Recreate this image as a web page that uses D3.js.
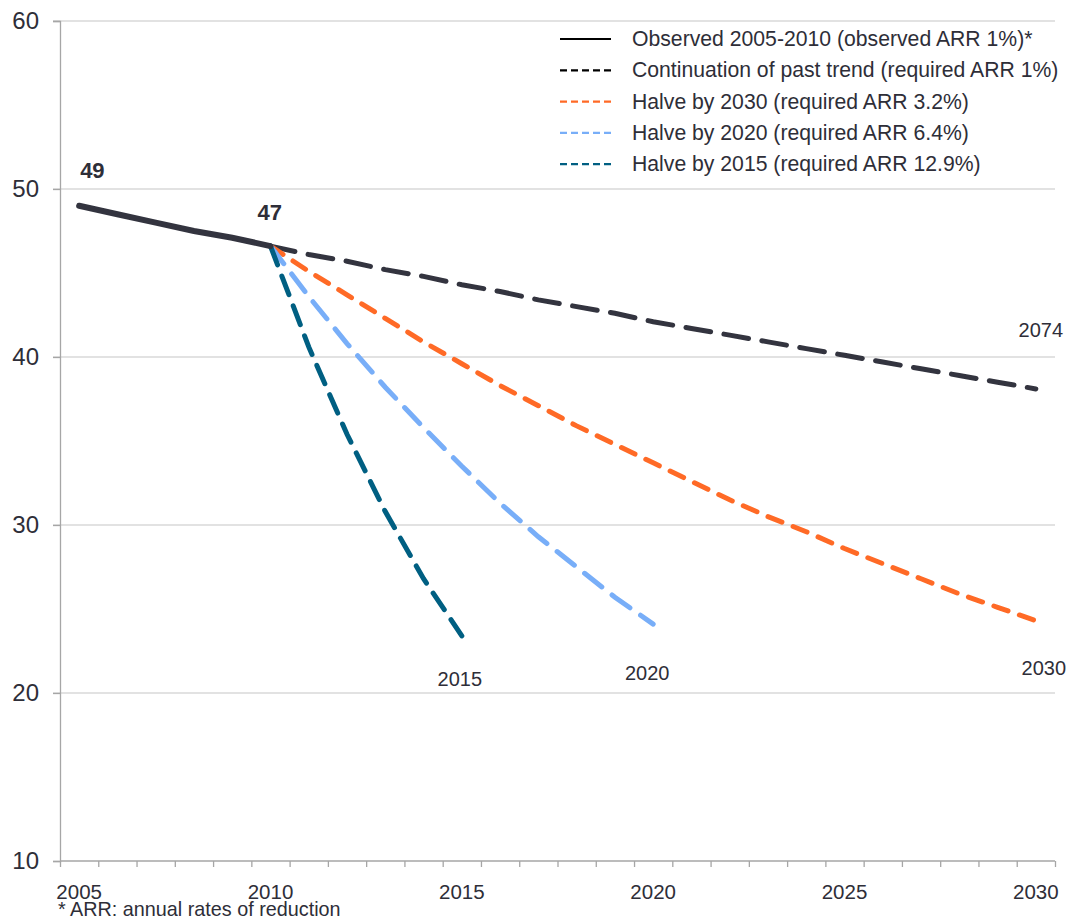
<!DOCTYPE html>
<html>
<head>
<meta charset="utf-8">
<script src="https://cdn.jsdelivr.net/npm/d3@7"></script>
<style>
  body { margin: 0; background: #fff; }
  svg { font-family: "Liberation Sans", Arial, sans-serif; }
</style>
</head>
<body>
<svg id="chart" width="1070" height="920"></svg>
<script>
// data
var observedYears = [2005, 2006, 2007, 2008, 2009, 2010];
var observed = [49.0, 48.5, 48.0, 47.5, 47.1, 46.6];

var trendYears = d3.range(2010, 2031);
var continuation = [46.6, 46.1, 45.7, 45.2, 44.8, 44.3, 43.9, 43.4, 43.0, 42.6, 42.1,
  41.7, 41.3, 40.9, 40.5, 40.1, 39.7, 39.3, 38.9, 38.5, 38.1];
var halve2030 = [46.6, 45.1, 43.7, 42.3, 40.9, 39.6, 38.3, 37.1, 35.9, 34.8, 33.7,
  32.6, 31.5, 30.5, 29.6, 28.6, 27.7, 26.8, 25.9, 25.1, 24.3];
var halve2020 = [46.6, 43.6, 40.8, 38.2, 35.8, 33.5, 31.3, 29.3, 27.5, 25.7, 24.1];
var halve2015 = [46.6, 40.6, 35.4, 30.8, 26.8, 23.4];

var yTicks = [10, 20, 30, 40, 50, 60];
var xLabels = [2005, 2010, 2015, 2020, 2025, 2030];

var legendLabels = [
  'Observed 2005-2010 (observed ARR 1%)*',
  'Continuation of past trend (required ARR 1%)',
  'Halve by 2030 (required ARR 3.2%)',
  'Halve by 2020 (required ARR 6.4%)',
  'Halve by 2015 (required ARR 12.9%)'
];
var colors = ['#33343f', '#33343f', '#ff6a26', '#78aef8', '#005f82'];
var legendColors = ['#000', '#000', '#ff6a26', '#78aef8', '#005f82'];
var dashes = [null, '25,13.5', '15,12', '22,13', '20,12'];

var svg = d3.select('#chart');
var plotLeft = 60, plotRight = 1055, plotTop = 21, plotBottom = 861;

var x = d3.scaleLinear().domain([2004.5, 2030.5]).range([plotLeft, plotRight]);
var y = d3.scaleLinear().domain([10, 60]).range([plotBottom, plotTop]);

// gridlines
svg.append('g')
  .selectAll('line')
  .data(yTicks.slice(1))
  .enter().append('line')
  .attr('x1', plotLeft - 7)
  .attr('x2', plotRight)
  .attr('y1', function(d) { return y(d); })
  .attr('y2', function(d) { return y(d); })
  .attr('stroke', '#d9d9d9')
  .attr('stroke-width', 1.3);

// y axis
var yAxis = svg.append('g')
  .attr('transform', 'translate(' + plotLeft + ',0)')
  .call(d3.axisLeft(y).tickValues(yTicks).tickSize(7).tickPadding(14));
yAxis.selectAll('line, path').attr('stroke', '#a6a6a6').attr('stroke-width', 1.3);
yAxis.selectAll('text').style('font-size', '24px').style('font-family', 'Liberation Sans, Arial, sans-serif').attr('fill', '#2e2e38');

// x axis, ticks between the years
var xAxis = svg.append('g')
  .attr('transform', 'translate(0,' + plotBottom + ')')
  .call(d3.axisBottom(x).tickValues(d3.range(2004.5, 2031, 1)).tickSize(6).tickFormat(''));
xAxis.select('.domain').attr('d', 'M' + plotLeft + ',0H' + plotRight);
xAxis.selectAll('line, path').attr('stroke', '#a6a6a6').attr('stroke-width', 1.3);

svg.append('g')
  .selectAll('text')
  .data(xLabels)
  .enter().append('text')
  .attr('x', function(d) { return x(d); })
  .attr('y', plotBottom + 38)
  .attr('text-anchor', 'middle')
  .style('font-size', '20.5px')
  .attr('fill', '#2e2e38')
  .text(function(d) { return d; });

// lines
var line = d3.line()
  .x(function(d) { return x(d[0]); })
  .y(function(d) { return y(d[1]); });

var series = [
  { years: trendYears, values: continuation, k: 1 },
  { years: trendYears, values: halve2030, k: 2 },
  { years: trendYears, values: halve2020, k: 3 },
  { years: trendYears, values: halve2015, k: 4 },
  { years: observedYears, values: observed, k: 0 }
];

series.forEach(function(s) {
  var pts = s.values.map(function(v, j) { return [s.years[j], v]; });
  svg.append('path')
    .datum(pts)
    .attr('d', line)
    .attr('fill', 'none')
    .attr('stroke', colors[s.k])
    .attr('stroke-width', s.k === 0 ? 6 : 5)
    .attr('stroke-linecap', 'round')
    .attr('stroke-dasharray', dashes[s.k]);
});

// value labels
svg.append('text')
  .attr('x', x(2005) + 1)
  .attr('y', y(observed[0]) - 28)
  .style('font-size', '22px')
  .style('font-weight', 'bold')
  .attr('fill', '#2e2e38')
  .text(Math.round(observed[0]));
svg.append('text')
  .attr('x', x(2010) - 13)
  .attr('y', y(observed[5]) - 26)
  .style('font-size', '22px')
  .style('font-weight', 'bold')
  .attr('fill', '#2e2e38')
  .text(Math.round(observed[5]));

// end labels
var endLabels = [
  { text: '2074', year: 2030, value: continuation[20], dx: 5, dy: -52 },
  { text: '2015', year: 2015, value: halve2015[5], dx: -2, dy: 50 },
  { text: '2020', year: 2020, value: halve2020[10], dx: -6, dy: 56 },
  { text: '2030', year: 2030, value: halve2030[20], dx: 8, dy: 54 }
];
svg.append('g')
  .selectAll('text')
  .data(endLabels)
  .enter().append('text')
  .attr('x', function(d) { return x(d.year) + d.dx; })
  .attr('y', function(d) { return y(d.value) + d.dy; })
  .attr('text-anchor', 'middle')
  .style('font-size', '20px')
  .attr('fill', '#2e2e38')
  .text(function(d) { return d.text; });

// legend
var legend = svg.append('g')
  .selectAll('g')
  .data(legendLabels)
  .enter().append('g')
  .attr('transform', function(d, i) { return 'translate(560,' + (39 + i * 31.3) + ')'; });
legend.append('line')
  .attr('x1', 0).attr('x2', 51)
  .attr('y1', 0).attr('y2', 0)
  .attr('stroke', function(d, i) { return legendColors[i]; })
  .attr('stroke-width', 2.2)
  .attr('stroke-dasharray', function(d, i) { return i === 0 ? null : '7,4'; });
legend.append('text')
  .attr('x', 72)
  .attr('y', 7)
  .style('font-size', '21.2px')
  .attr('fill', '#2e2e38')
  .text(function(d) { return d; });

// footnote
svg.append('text')
  .attr('x', 58)
  .attr('y', 916)
  .style('font-size', '19.8px')
  .attr('fill', '#2e2e38')
  .text('* ARR: annual rates of reduction');
</script>
</body>
</html>
